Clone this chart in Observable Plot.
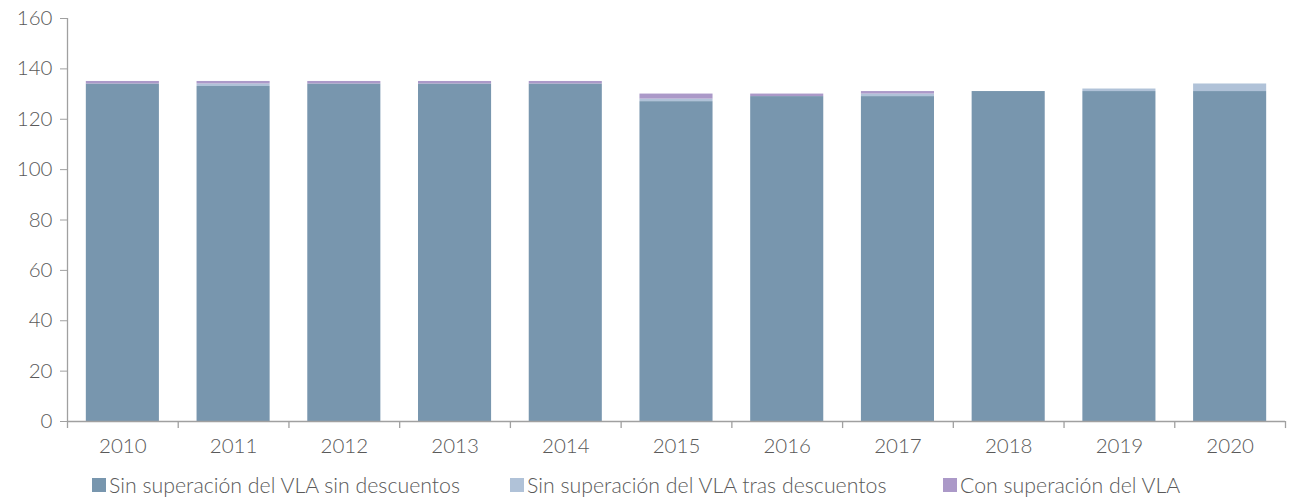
<!DOCTYPE html>
<html>
<head>
<meta charset="utf-8">
<script src="https://cdn.jsdelivr.net/npm/d3@7"></script>
<script src="https://cdn.jsdelivr.net/npm/@observablehq/plot@0.6"></script>
<style>
  html, body { margin: 0; padding: 0; background: #fff; }
  #wrap { position: relative; width: 1292px; height: 498px; font-family: Lato, "Open Sans", sans-serif; }
  .leg { position: absolute; top: 472px; height: 26px; display: flex; align-items: center; font-size: 21.3px; font-weight: 300; color: #595959; white-space: nowrap; }
  .sw { width: 14px; height: 14px; margin-right: 3px; display: inline-block; }
</style>
</head>
<body>
<div id="wrap"></div>
<script>
const years = ["2010","2011","2012","2013","2014","2015","2016","2017","2018","2019","2020"];
const seriesNames = ["Sin superación del VLA sin descuentos", "Sin superación del VLA tras descuentos", "Con superación del VLA"];
const sinDescuentos  = [134, 133, 134, 134, 134, 127, 129, 129, 131, 131, 131];
const trasDescuentos = [0,   1,   0,   0,   0,   1,   0,   1,   0,   1,   3];
const conSuperacion  = [1,   1,   1,   1,   1,   2,   1,   1,   0,   0,   0];
const colors = ["#7896ae", "#b0c2d8", "#ab99c8"];
const yTicks = [0, 20, 40, 60, 80, 100, 120, 140, 160];

const seriesValues = [sinDescuentos, trasDescuentos, conSuperacion];
const data = [];
seriesNames.forEach((s, si) => years.forEach((y, i) => data.push({year: y, series: s, value: seriesValues[si][i]})));

const width = 1292, marginLeft = 67, marginRight = 7;
const step = (width - marginLeft - marginRight) / years.length;
const axisColor = "#a0a0a0";

const chart = Plot.plot({
  width,
  height: 465,
  marginLeft,
  marginRight,
  marginTop: 18,
  marginBottom: 44,
  style: {fontFamily: "Lato, 'Open Sans', sans-serif", fontSize: "20.5px", color: "#595959", background: "#fff"},
  x: {domain: years, paddingInner: 0.34, paddingOuter: 0.17, round: false, label: null},
  y: {domain: [0, 160], label: null},
  color: {domain: seriesNames, range: colors},
  marks: [
    Plot.barY(data, {x: "year", y: "value", fill: "series", order: seriesNames}),
    Plot.ruleY([0], {stroke: axisColor, strokeWidth: 1.3}),
    Plot.ruleX([years[0]], {x: d => d, dx: -step / 2, y1: -2.8, y2: 160, stroke: axisColor, strokeWidth: 1.3}),
    Plot.ruleX(years.slice(1), {x: d => d, dx: -step / 2, y1: -2.8, y2: 0, stroke: axisColor, strokeWidth: 1.3}),
    Plot.ruleX([years[years.length - 1]], {x: d => d, dx: step / 2, y1: -2.8, y2: 0, stroke: axisColor, strokeWidth: 1.3}),
    Plot.axisY({ticks: yTicks, tickSize: 7, tickPadding: 8, stroke: axisColor, fill: "#595959", fontWeight: 300, label: null}),
    Plot.axisX({tickSize: 0, tickPadding: 17, fill: "#595959", fontWeight: 300, label: null})
  ]
});
const wrap = document.getElementById("wrap");
wrap.appendChild(chart);

const legendLefts = [92, 510, 943];
seriesNames.forEach((s, i) => {
  const d = document.createElement("div");
  d.className = "leg";
  d.style.left = legendLefts[i] + "px";
  d.innerHTML = `<span class="sw" style="background:${colors[i]}"></span><span></span>`;
  d.lastChild.textContent = s;
  wrap.appendChild(d);
});
</script>
</body>
</html>
